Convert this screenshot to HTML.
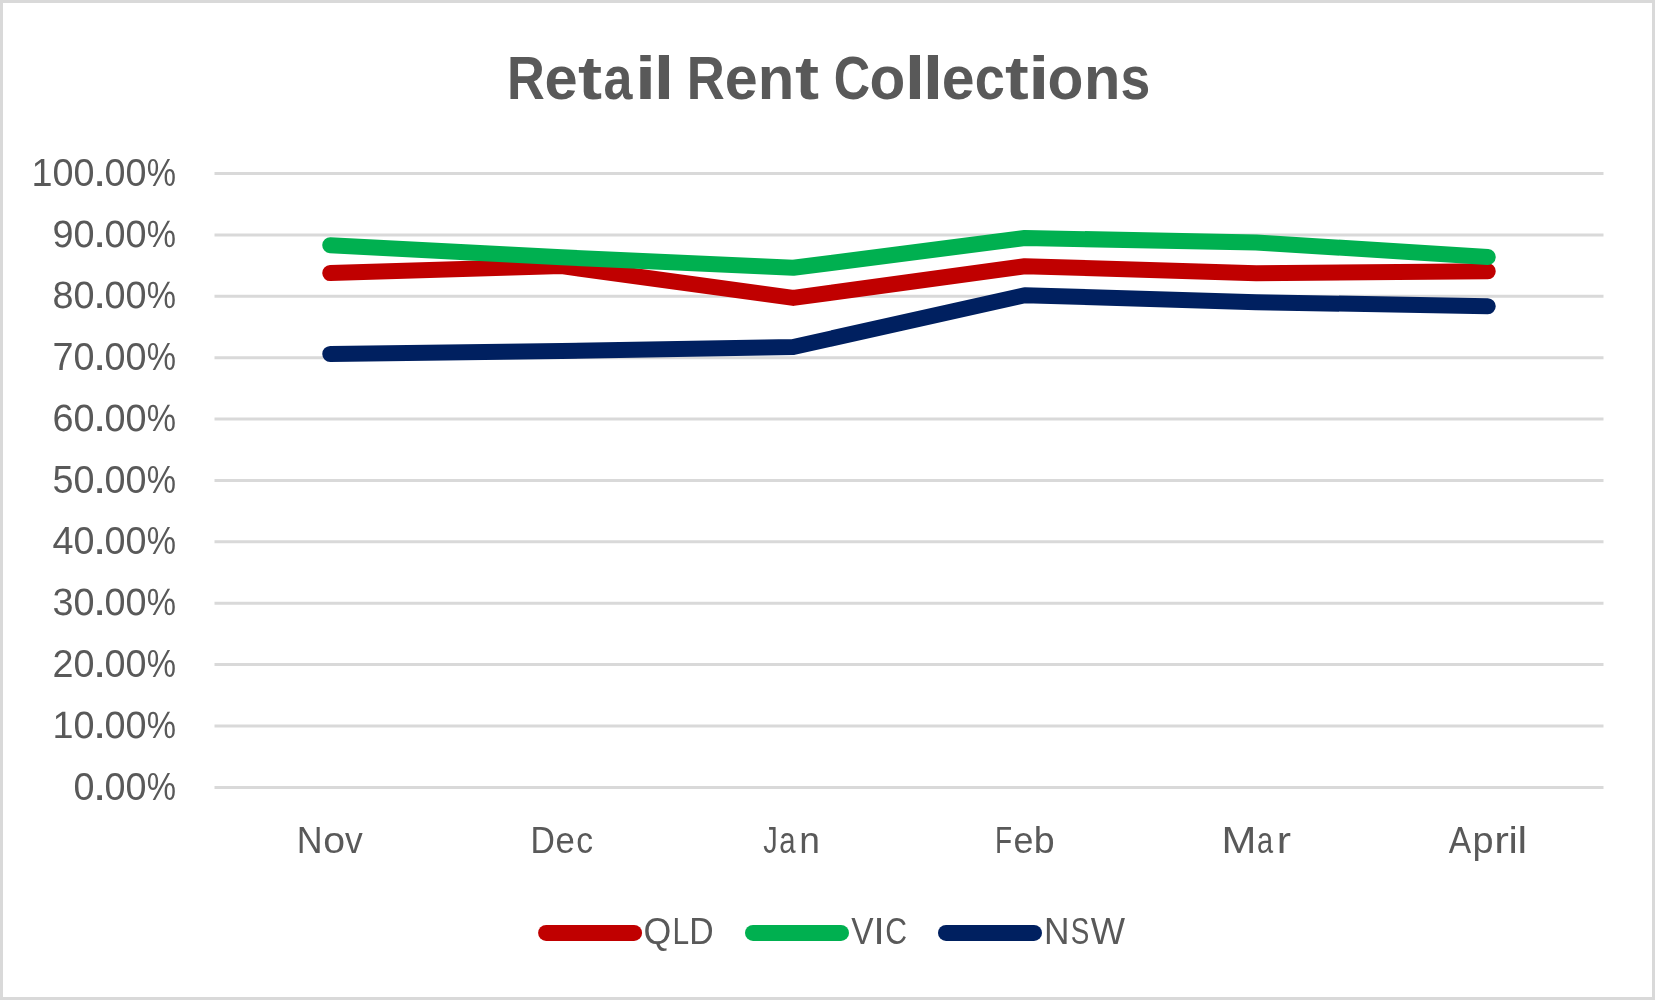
<!DOCTYPE html>
<html><head><meta charset="utf-8"><title>Retail Rent Collections</title>
<style>
html,body{margin:0;padding:0;background:#fff;}
body{width:1655px;height:1000px;overflow:hidden;font-family:"Liberation Sans",sans-serif;}
svg{display:block;}
text{font-family:"Liberation Sans",sans-serif;fill:#595959;}
.t{font-weight:bold;font-size:61px;}
.a{font-size:37.5px;}
.y{font-size:38px;font-kerning:none;}
.p{text-rendering:geometricPrecision;}
</style></head><body>
<svg width="1655" height="1000" viewBox="0 0 1655 1000">
<defs><filter id="g" filterUnits="userSpaceOnUse" x="0" y="0" width="1655" height="1000" color-interpolation-filters="sRGB"><feOffset dx="0" dy="0"/></filter></defs>
<rect x="0" y="0" width="1655" height="1000" fill="#D9D9D9"/>
<rect x="3" y="3" width="1649" height="994" fill="#FFFFFF"/>
<g stroke="#D9D9D9" stroke-width="3" fill="none">
<line x1="214.5" y1="787.40" x2="1603.5" y2="787.40"/>
<line x1="214.5" y1="726.01" x2="1603.5" y2="726.01"/>
<line x1="214.5" y1="664.62" x2="1603.5" y2="664.62"/>
<line x1="214.5" y1="603.23" x2="1603.5" y2="603.23"/>
<line x1="214.5" y1="541.84" x2="1603.5" y2="541.84"/>
<line x1="214.5" y1="480.45" x2="1603.5" y2="480.45"/>
<line x1="214.5" y1="419.06" x2="1603.5" y2="419.06"/>
<line x1="214.5" y1="357.67" x2="1603.5" y2="357.67"/>
<line x1="214.5" y1="296.28" x2="1603.5" y2="296.28"/>
<line x1="214.5" y1="234.89" x2="1603.5" y2="234.89"/>
<line x1="214.5" y1="173.50" x2="1603.5" y2="173.50"/>
</g>
<g filter="url(#g)">
<text class="t" transform="matrix(0.8574 0 0 1 506.90 98.8)">R</text>
<text class="t" transform="matrix(0.9777 0 0 1 544.57 98.8)">e</text>
<text class="t" transform="matrix(1.1846 0 0 1 578.12 98.8)">t</text>
<text class="t" transform="matrix(0.8516 0 0 1 603.58 98.8)">a</text>
<text class="t" transform="matrix(1.2426 0 0 1 635.11 98.8)">i</text>
<text class="t" transform="matrix(1.2067 0 0 1 653.76 98.8)">l</text>
<text class="t" transform="matrix(0.8626 0 0 1 686.78 98.8)">R</text>
<text class="t" transform="matrix(0.9709 0 0 1 724.69 98.8)">e</text>
<text class="t" transform="matrix(0.9811 0 0 1 757.86 98.8)">n</text>
<text class="t" transform="matrix(1.1846 0 0 1 794.92 98.8)">t</text>
<text class="t" transform="matrix(0.8249 0 0 1 833.64 98.8)">C</text>
<text class="t" transform="matrix(0.9601 0 0 1 869.61 98.8)">o</text>
<text class="t" transform="matrix(1.2067 0 0 1 904.76 98.8)">l</text>
<text class="t" transform="matrix(1.2067 0 0 1 922.76 98.8)">l</text>
<text class="t" transform="matrix(0.9675 0 0 1 941.69 98.8)">e</text>
<text class="t" transform="matrix(0.8872 0 0 1 974.69 98.8)">c</text>
<text class="t" transform="matrix(1.1687 0 0 1 1005.03 98.8)">t</text>
<text class="t" transform="matrix(1.2426 0 0 1 1028.21 98.8)">i</text>
<text class="t" transform="matrix(0.9632 0 0 1 1047.60 98.8)">o</text>
<text class="t" transform="matrix(0.9777 0 0 1 1083.97 98.8)">n</text>
<text class="t" transform="matrix(0.8778 0 0 1 1120.42 98.8)">s</text>
<text class="y" transform="matrix(0.9937 0 0 1 31.40 186)">100</text>
<text class="y" transform="matrix(1.3 0 0 1.15 92.84 186)">.</text>
<text class="y" transform="matrix(0.9937 0 0 1 104.45 186)">00</text>
<text class="y" transform="matrix(0.8655 0 0 1 146.63 186)">%</text>
<text class="y p" transform="matrix(0.9937 0 0 1 52.40 247)">90</text>
<text class="y p" transform="matrix(1.3 0 0 1.15 92.84 247)">.</text>
<text class="y p" transform="matrix(0.9937 0 0 1 104.45 247)">00</text>
<text class="y p" transform="matrix(0.8655 0 0 1 146.63 247)">%</text>
<text class="y p" transform="matrix(0.9937 0 0 1 52.40 308)">80</text>
<text class="y p" transform="matrix(1.3 0 0 1.15 92.84 308)">.</text>
<text class="y p" transform="matrix(0.9937 0 0 1 104.45 308)">00</text>
<text class="y p" transform="matrix(0.8655 0 0 1 146.63 308)">%</text>
<text class="y" transform="matrix(0.9937 0 0 1 52.40 370)">70</text>
<text class="y" transform="matrix(1.3 0 0 1.15 92.84 370)">.</text>
<text class="y" transform="matrix(0.9937 0 0 1 104.45 370)">00</text>
<text class="y" transform="matrix(0.8655 0 0 1 146.63 370)">%</text>
<text class="y p" transform="matrix(0.9937 0 0 1 52.40 431)">60</text>
<text class="y p" transform="matrix(1.3 0 0 1.15 92.84 431)">.</text>
<text class="y p" transform="matrix(0.9937 0 0 1 104.45 431)">00</text>
<text class="y p" transform="matrix(0.8655 0 0 1 146.63 431)">%</text>
<text class="y" transform="matrix(0.9937 0 0 1 52.40 493)">50</text>
<text class="y" transform="matrix(1.3 0 0 1.15 92.84 493)">.</text>
<text class="y" transform="matrix(0.9937 0 0 1 104.45 493)">00</text>
<text class="y" transform="matrix(0.8655 0 0 1 146.63 493)">%</text>
<text class="y" transform="matrix(0.9937 0 0 1 52.40 554)">40</text>
<text class="y" transform="matrix(1.3 0 0 1.15 92.84 554)">.</text>
<text class="y" transform="matrix(0.9937 0 0 1 104.45 554)">00</text>
<text class="y" transform="matrix(0.8655 0 0 1 146.63 554)">%</text>
<text class="y p" transform="matrix(0.9937 0 0 1 52.40 615)">30</text>
<text class="y p" transform="matrix(1.3 0 0 1.15 92.84 615)">.</text>
<text class="y p" transform="matrix(0.9937 0 0 1 104.45 615)">00</text>
<text class="y p" transform="matrix(0.8655 0 0 1 146.63 615)">%</text>
<text class="y" transform="matrix(0.9937 0 0 1 52.40 677)">20</text>
<text class="y" transform="matrix(1.3 0 0 1.15 92.84 677)">.</text>
<text class="y" transform="matrix(0.9937 0 0 1 104.45 677)">00</text>
<text class="y" transform="matrix(0.8655 0 0 1 146.63 677)">%</text>
<text class="y p" transform="matrix(0.9937 0 0 1 52.40 738)">10</text>
<text class="y p" transform="matrix(1.3 0 0 1.15 92.84 738)">.</text>
<text class="y p" transform="matrix(0.9937 0 0 1 104.45 738)">00</text>
<text class="y p" transform="matrix(0.8655 0 0 1 146.63 738)">%</text>
<text class="y" transform="matrix(0.9937 0 0 1 73.40 800)">0</text>
<text class="y" transform="matrix(1.3 0 0 1.15 92.84 800)">.</text>
<text class="y" transform="matrix(0.9937 0 0 1 104.45 800)">00</text>
<text class="y" transform="matrix(0.8655 0 0 1 146.63 800)">%</text>
<text class="a" transform="matrix(0.9548 0 0 1 296.86 853)">N</text>
<text class="a" transform="matrix(1.0448 0 0 1 323.35 853)">o</text>
<text class="a" transform="matrix(0.9463 0 0 1 344.88 853)">v</text>
<text class="a" transform="matrix(0.9005 0 0 1 530.43 853)">D</text>
<text class="a" transform="matrix(0.9263 0 0 1 555.42 853)">e</text>
<text class="a" transform="matrix(0.8968 0 0 1 576.27 853)">c</text>
<text class="a" transform="matrix(0.7737 0 0 1 763.35 853)">J</text>
<text class="a" transform="matrix(0.7839 0 0 1 779.25 853)">a</text>
<text class="a" transform="matrix(0.9918 0 0 1 799.33 853)">n</text>
<text class="a" transform="matrix(0.7475 0 0 1 995.10 853)">F</text>
<text class="a" transform="matrix(0.9547 0 0 1 1013.38 853)">e</text>
<text class="a" transform="matrix(1.0021 0 0 1 1033.68 853)">b</text>
<text class="a" transform="matrix(1.1162 0 0 1 1221.57 853)">M</text>
<text class="a" transform="matrix(0.7735 0 0 1 1256.97 853)">a</text>
<text class="a" transform="matrix(1.1413 0 0 1 1276.66 853)">r</text>
<text class="a" transform="matrix(0.8968 0 0 1 1448.83 853)">A</text>
<text class="a" transform="matrix(1.0081 0 0 1 1472.56 853)">p</text>
<text class="a" transform="matrix(1.1733 0 0 1 1494.18 853)">r</text>
<text class="a" transform="matrix(1.1226 0 0 1 1508.38 853)">i</text>
<text class="a" transform="matrix(1.1529 0 0 1 1517.39 853)">l</text>
<text class="a" transform="matrix(0.9532 0 0 1 643.51 944)">Q</text>
<text class="a" transform="matrix(0.7983 0 0 1 672.44 944)">L</text>
<text class="a" transform="matrix(0.9005 0 0 1 689.23 944)">D</text>
<text class="a" transform="matrix(0.8913 0 0 1 851.15 944)">V</text>
<text class="a" transform="matrix(1.1151 0 0 1 873.14 944)">I</text>
<text class="a" transform="matrix(0.8043 0 0 1 885.17 944)">C</text>
<text class="a" transform="matrix(0.9405 0 0 1 1044.01 944)">N</text>
<text class="a" transform="matrix(0.7411 0 0 1 1070.74 944)">S</text>
<text class="a" transform="matrix(0.9686 0 0 1 1090.74 944)">W</text>
</g>
<g fill="none" stroke-width="16" stroke-linecap="round" stroke-linejoin="round">
<polyline stroke="#C00000" points="330.25,273.10 561.75,266.10 793.25,297.90 1024.75,266.20 1256.25,273.30 1487.75,271.30"/>
<polyline stroke="#00B050" points="330.25,245.20 561.75,257.30 793.25,267.80 1024.75,238.00 1256.25,242.40 1487.75,257.10"/>
<polyline stroke="#002060" points="330.25,353.90 561.75,351.00 793.25,347.00 1024.75,295.20 1256.25,302.20 1487.75,306.20"/>
<line stroke="#C00000" x1="546.1" y1="932.9" x2="634.1" y2="932.9"/>
<line stroke="#00B050" x1="753" y1="932.9" x2="841" y2="932.9"/>
<line stroke="#002060" x1="946" y1="932.9" x2="1034" y2="932.9"/>
</g>
</svg></body></html>
